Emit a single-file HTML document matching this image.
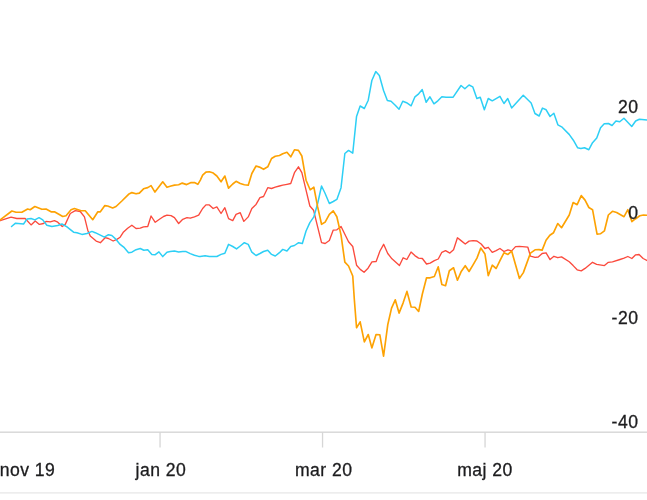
<!DOCTYPE html>
<html><head><meta charset="utf-8"><title>chart</title>
<style>
html,body{margin:0;padding:0;background:#fff;}
body{width:647px;height:500px;overflow:hidden;position:relative;font-family:"Liberation Sans",sans-serif;}
svg{position:absolute;left:0;top:0;display:block;}
text{font-family:"Liberation Sans",sans-serif;font-size:17.6px;fill:#1c1c1e;letter-spacing:0.45px;stroke:#1c1c1e;stroke-width:0.3px;}
</style></head><body>
<svg width="647" height="500" viewBox="0 0 647 500">
<rect x="0" y="431.5" width="647" height="1.4" fill="#d6d6d6"/>
<rect x="159.4" y="432" width="1.3" height="15.5" fill="#d6d6d6"/>
<rect x="321.9" y="432" width="1.3" height="15.5" fill="#d6d6d6"/>
<rect x="484.4" y="432" width="1.3" height="15.5" fill="#d6d6d6"/>
<rect x="0" y="492.3" width="647" height="1.2" fill="#e6e6e6"/>
<g transform="translate(0.15,0.1)" fill="none" stroke-width="1.65" stroke-linejoin="round" stroke-linecap="round">
<polyline stroke="#fb4a3d" stroke-width="1.35" points="0.0,220.6 10.9,217.1 16.7,218.4 25.0,218.4 30.9,224.8 35.1,220.9 39.2,224.3 43.4,223.4 45.9,221.3 50.1,221.8 54.3,220.6 57.6,222.1 62.1,226.4 65.1,224.3 70.1,213.4 75.1,210.6 80.1,211.4 84.3,216.8 87.6,230.1 90.1,236.0 96.0,241.0 100.2,242.6 105.0,237.6 108.3,238.4 113.0,240.9 116.7,239.3 120.0,237.1 123.4,231.8 127.5,228.1 131.7,225.1 135.9,228.4 140.1,228.1 143.4,226.7 147.6,226.4 150.9,215.9 155.1,222.2 159.3,219.2 163.4,216.4 166.8,215.1 170.9,215.6 174.3,217.6 178.5,223.4 182.6,219.2 186.8,217.6 190.1,218.1 194.3,216.7 198.5,215.1 200.0,212.6 202.5,208.4 205.8,204.8 209.2,204.8 213.0,208.4 216.7,206.8 220.9,213.4 224.7,207.6 228.4,218.5 232.6,220.5 235.9,214.3 240.1,212.6 243.7,221.3 248.1,216.8 251.7,208.4 255.9,204.3 259.8,197.6 263.4,196.4 267.6,187.6 271.4,188.4 275.1,187.1 279.3,185.9 282.6,185.1 286.8,184.2 290.6,183.4 294.3,172.6 298.3,166.7 301.7,172.6 305.9,190.1 309.7,205.9 313.4,210.1 317.5,226.7 321.4,242.6 325.0,243.4 329.2,240.4 333.1,230.0 336.7,229.7 340.9,226.4 344.7,234.2 348.4,241.7 352.6,246.4 356.4,265.1 360.1,269.3 363.9,272.1 367.9,268.1 371.8,261.7 376.0,261.4 379.8,250.9 383.5,244.2 387.6,253.4 391.8,258.7 399.3,265.4 403.0,257.7 406.7,259.4 410.9,251.9 414.7,255.5 418.4,258.0 422.2,258.4 426.4,263.9 430.0,263.1 434.2,260.6 438.1,258.9 441.7,252.2 445.4,250.5 449.7,253.0 453.4,249.7 457.3,237.7 460.9,240.5 465.1,243.9 468.9,241.0 472.9,240.5 476.8,240.9 481.0,243.9 484.8,248.4 488.1,247.2 492.1,252.2 496.0,250.5 499.8,248.4 503.8,251.4 507.8,249.7 511.5,250.8 515.4,246.5 519.3,246.2 527.7,247.1 530.3,256.0 534.9,257.3 538.1,256.9 542.0,253.4 545.9,252.7 549.9,259.5 553.8,256.2 557.6,257.6 561.4,256.8 569.1,261.7 573.0,265.5 577.0,269.7 581.1,270.8 584.9,268.3 592.4,262.2 596.5,264.2 604.3,265.5 608.2,262.2 612.3,261.7 619.8,259.4 623.9,258.1 627.7,256.4 631.7,258.4 635.5,254.7 638.9,254.4 643.0,258.4 648.0,260.9"/>
<polyline stroke="#2dcff5" stroke-width="1.5" points="11.4,226.4 15.4,223.1 23.4,223.9 27.0,218.8 30.9,218.4 34.7,219.8 38.9,217.6 42.6,219.8 46.7,225.1 51.7,226.4 57.6,225.4 61.8,223.9 66.8,226.8 73.4,232.1 76.8,232.6 81.8,234.3 86.8,233.4 91.8,231.3 95.1,232.6 100.2,235.1 104.2,237.1 108.3,234.6 111.7,235.4 115.9,239.3 120.0,244.3 124.2,247.6 128.4,252.6 131.7,252.1 135.9,249.6 140.1,248.4 143.7,250.1 147.6,249.6 151.7,254.3 155.1,254.6 158.8,251.8 162.6,256.5 166.8,252.1 170.1,251.5 174.3,251.0 178.5,251.8 182.6,251.5 186.0,251.5 190.1,253.5 194.3,255.1 198.5,256.3 200.0,256.4 205.0,255.6 209.2,256.3 213.0,256.3 216.7,256.4 220.9,254.3 224.7,253.1 228.4,244.3 232.6,246.4 236.4,248.8 240.1,245.9 244.2,242.6 248.1,244.3 251.7,252.1 255.9,255.4 259.8,253.4 263.4,251.4 267.6,250.1 271.4,254.3 275.1,255.9 279.3,252.6 282.6,249.3 286.8,250.9 290.6,246.4 294.3,245.4 298.5,242.6 302.2,243.4 305.9,230.9 309.7,222.5 313.7,216.8 317.5,203.4 321.4,185.9 325.0,193.4 329.2,203.4 333.1,201.4 336.7,199.3 340.9,187.6 344.7,153.4 348.4,150.3 352.6,153.0 356.4,116.3 360.0,105.9 364.2,108.4 368.1,100.1 371.7,80.4 375.6,71.5 379.2,75.4 383.4,90.4 387.2,100.4 390.9,101.2 395.1,105.1 398.9,109.1 402.6,101.2 406.4,102.6 411.0,105.7 414.8,96.7 418.5,93.7 422.1,89.5 426.0,102.1 429.8,96.7 433.8,103.7 437.7,100.7 441.7,96.7 445.9,97.1 453.0,97.1 460.9,85.4 464.7,88.7 468.9,84.9 472.6,86.7 476.7,98.4 480.1,97.1 484.2,109.6 488.1,98.4 492.1,100.7 499.8,96.2 503.8,103.4 507.6,98.4 511.5,107.9 523.1,95.1 531.0,102.9 534.8,113.4 539.0,115.9 542.3,108.0 546.0,109.7 549.9,116.4 553.7,113.1 557.7,124.7 561.5,126.7 569.0,134.3 573.2,140.1 577.4,147.6 580.7,148.4 584.4,147.6 588.7,149.6 592.4,142.6 596.6,137.9 600.4,127.6 604.1,123.7 608.3,123.4 611.9,125.4 615.8,120.9 619.6,121.7 623.8,118.1 631.6,126.4 635.5,120.9 639.2,119.2 648.3,120.1"/>
<polyline stroke="#fda203" points="0.0,219.8 11.7,210.9 15.9,212.1 21.7,212.2 27.5,208.9 30.0,209.6 34.7,206.4 41.7,209.2 45.9,208.9 50.9,211.7 54.3,211.7 62.6,216.4 65.9,215.6 70.9,209.7 74.3,208.4 81.0,210.6 85.1,210.6 92.6,219.6 97.7,211.7 100.2,211.7 104.7,205.5 107.5,205.9 112.5,207.9 115.9,206.4 121.7,200.9 128.4,194.2 131.7,192.5 135.9,193.7 139.2,193.0 143.4,188.7 147.6,187.5 150.9,185.5 154.8,192.0 158.8,186.7 162.6,181.7 166.8,187.2 170.9,185.9 174.3,185.0 178.5,184.7 182.1,183.0 186.5,184.5 191.0,182.5 194.3,182.5 197.7,184.2 200.2,180.0 202.5,175.1 205.8,172.0 209.2,171.7 212.5,172.6 216.7,175.9 220.9,181.7 224.7,175.9 228.4,188.1 232.6,183.9 235.9,181.2 240.1,183.4 244.2,184.7 248.1,185.1 251.7,173.4 255.9,165.9 259.3,167.0 263.4,169.2 267.6,166.7 271.4,158.4 275.1,156.2 279.3,155.4 282.6,153.7 286.8,152.2 290.6,156.7 294.3,149.7 298.3,150.3 301.7,155.9 305.9,180.1 310.0,189.7 313.7,187.1 317.5,206.8 321.4,224.2 325.0,222.0 329.2,214.2 333.1,210.8 336.7,216.7 340.9,235.0 344.7,262.1 348.4,265.9 352.6,275.9 354.2,299.7 356.4,327.7 360.0,321.7 364.2,341.8 368.1,334.4 371.7,347.8 375.9,334.4 379.7,334.7 383.4,356.1 387.6,324.7 391.4,308.0 395.1,299.7 398.9,313.0 402.9,303.0 406.8,291.3 411.0,306.9 414.8,307.2 418.5,311.4 422.2,293.9 426.4,277.7 430.0,277.7 434.2,276.4 438.1,266.7 441.7,284.4 445.4,285.6 449.2,270.6 453.4,267.7 457.3,280.1 460.9,271.7 465.1,265.6 468.9,271.4 472.9,264.7 476.8,258.0 480.6,248.0 484.8,253.9 488.1,275.6 492.1,265.1 496.0,268.4 499.8,260.6 503.8,252.7 507.8,254.3 511.5,251.0 519.3,278.3 523.2,272.5 530.3,253.0 534.9,249.7 538.8,249.5 542.0,250.0 545.9,240.1 549.7,235.1 553.4,232.6 557.6,223.4 561.4,227.6 569.1,214.9 573.0,202.4 577.0,204.6 581.1,195.5 584.9,200.0 588.7,207.4 592.4,209.6 596.9,234.0 600.2,233.7 604.3,230.7 608.2,214.9 612.3,211.2 616.5,212.4 623.9,216.6 627.7,209.6 631.7,221.5 635.5,218.6 639.7,215.7 643.3,214.9 648.0,215.2"/>
</g>
<g text-anchor="end">
<text x="638.4" y="113">20</text>
<text x="638.4" y="219">0</text>
<text x="638.4" y="324">-20</text>
<text x="638.4" y="428.2">-40</text>
</g>
<g>
<text x="-0.2" y="475.8">nov 19</text>
<text x="135.6" y="475.8">jan 20</text>
<text x="295" y="475.8">mar 20</text>
<text x="457.2" y="475.8">maj 20</text>
</g>
</svg>
</body></html>
